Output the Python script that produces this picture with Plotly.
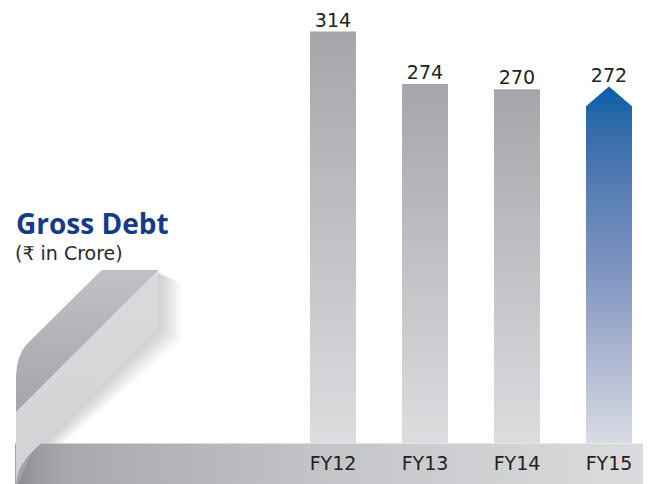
import plotly.graph_objects as go

# ---- data ----
categories = ["FY12", "FY13", "FY14", "FY15"]
values = [314, 274, 270, 272]
title_text = "Gross Debt"
subtitle_text = "(₹ in Crore)"

W, H = 655, 484
BAR_HALF = 0.25
ARROW_DROP = 15  # value units from tip to shoulder of the arrow bar

gray_scale = [[0, "#dcdddf"], [1, "#a5a6a9"]]
blue_scale = [[0, "#dadce4"], [0.2, "#b4bdd4"], [0.45, "#8598c3"], [0.7, "#5a7fb4"], [0.9, "#2e69aa"], [1, "#0a5ea8"]]

fig = go.Figure()

# ---- decorative elements (pixel-space subplot x/y) ----
def poly(xs, ys, **kw):
    fig.add_trace(go.Scatter(x=xs, y=ys, mode="lines", fill="toself", line=dict(width=0),
                             hoverinfo="skip", showlegend=False, xaxis="x", yaxis="y", **kw))

# soft shadow of the ribbon (many faint layers)
for i in range(12):
    d = 2 + i * 2
    poly([150, 158 + d, 158 + d, 45 + d * 0.8, 40], [270, 270 + d * 0.6, 328 + d * 0.5, 443, 443],
         fillcolor="rgba(110,110,118,0.028)")

# bottom band with horizontal gradient
poly([15, 643, 643, 15], [443.5, 443.5, 484, 484],
     fillgradient=dict(type="horizontal", colorscale=[[0, "#a2a3a6"], [0.5, "#c4c5c8"], [1, "#dcdcde"]]))
# fold shadow on band
poly([36, 75, 60, 18], [443.5, 443.5, 484, 484],
     fillgradient=dict(type="horizontal", colorscale=[[0, "rgba(135,135,140,0.8)"], [1, "rgba(165,166,169,0)"]]))

# ribbon light face
poly([16, 158, 158, 41, 34, 28, 23, 19, 17, 16],
     [412, 270, 327, 443, 449, 456, 463, 470, 477, 484],
     fillgradient=dict(type="vertical", colorscale=[[0, "#d2d3d5"], [1, "#d9dadc"]]))
# ribbon dark face
poly([101.7, 158.3, 16, 16, 17, 19, 22, 26, 31],
     [270, 270, 412, 376, 366, 358, 351, 345, 340],
     fillgradient=dict(type="vertical", colorscale=[[0, "#a4a5a8"], [1, "#c0c1c4"]]))

# ---- bars (data subplot x2/y2) ----
for i, (c, v) in enumerate(zip(categories, values)):
    if i == len(values) - 1:
        xs = [i - BAR_HALF, i - BAR_HALF, i, i + BAR_HALF, i + BAR_HALF, i - BAR_HALF]
        ys = [0, v - ARROW_DROP, v, v - ARROW_DROP, 0, 0]
        scale = blue_scale
    else:
        xs = [i - BAR_HALF, i - BAR_HALF, i + BAR_HALF, i + BAR_HALF, i - BAR_HALF]
        ys = [0, v, v, 0, 0]
        scale = gray_scale
    fig.add_trace(go.Scatter(x=xs, y=ys, mode="lines", fill="toself", line=dict(width=0),
                             fillgradient=dict(type="vertical", colorscale=scale),
                             hoverinfo="skip", showlegend=False, xaxis="x2", yaxis="y2"))

fig.add_trace(go.Scatter(x=list(range(len(values))), y=values, mode="text",
                         text=[str(v) for v in values], textposition="top center",
                         textfont=dict(family="DejaVu Sans", size=19, color="#222222"),
                         hoverinfo="skip", showlegend=False, xaxis="x2", yaxis="y2"))

# ---- titles ----
fig.add_annotation(text=f"<b>{title_text}</b>", xref="paper", yref="paper", x=14 / W, y=1 - 202 / H,
                   xanchor="left", yanchor="top", showarrow=False,
                   font=dict(family="Open Sans", size=28, color="#163a8a"))
fig.add_annotation(text=subtitle_text, xref="paper", yref="paper", x=13 / W, y=1 - 240 / H,
                   xanchor="left", yanchor="top", showarrow=False,
                   font=dict(family="DejaVu Sans", size=19, color="#2a2a2a"))

y2_top = 314 * 443.5 / 412
fig.update_layout(
    width=W, height=H, margin=dict(l=0, r=0, t=0, b=0),
    paper_bgcolor="white", plot_bgcolor="rgba(0,0,0,0)",
    xaxis=dict(domain=[0, 1], range=[0, W], visible=False, fixedrange=True),
    yaxis=dict(domain=[0, 1], range=[H, 0], visible=False, fixedrange=True),
    xaxis2=dict(domain=[0, 1], anchor="y2", range=[-333 / 92, 322 / 92],
                tickvals=list(range(len(categories))), ticktext=categories,
                showgrid=False, zeroline=False, showline=False, ticks="", fixedrange=True,
                tickfont=dict(family="DejaVu Sans", size=19, color="#222222"),
                ticklabelstandoff=6),
    yaxis2=dict(domain=[1 - 443.5 / H, 1], anchor="x2", range=[0, y2_top], visible=False,
                fixedrange=True),
)

fig.write_html("out.html", config={"displayModeBar": False},
               post_script="document.body.style.margin='0';document.body.style.overflow='hidden';")
